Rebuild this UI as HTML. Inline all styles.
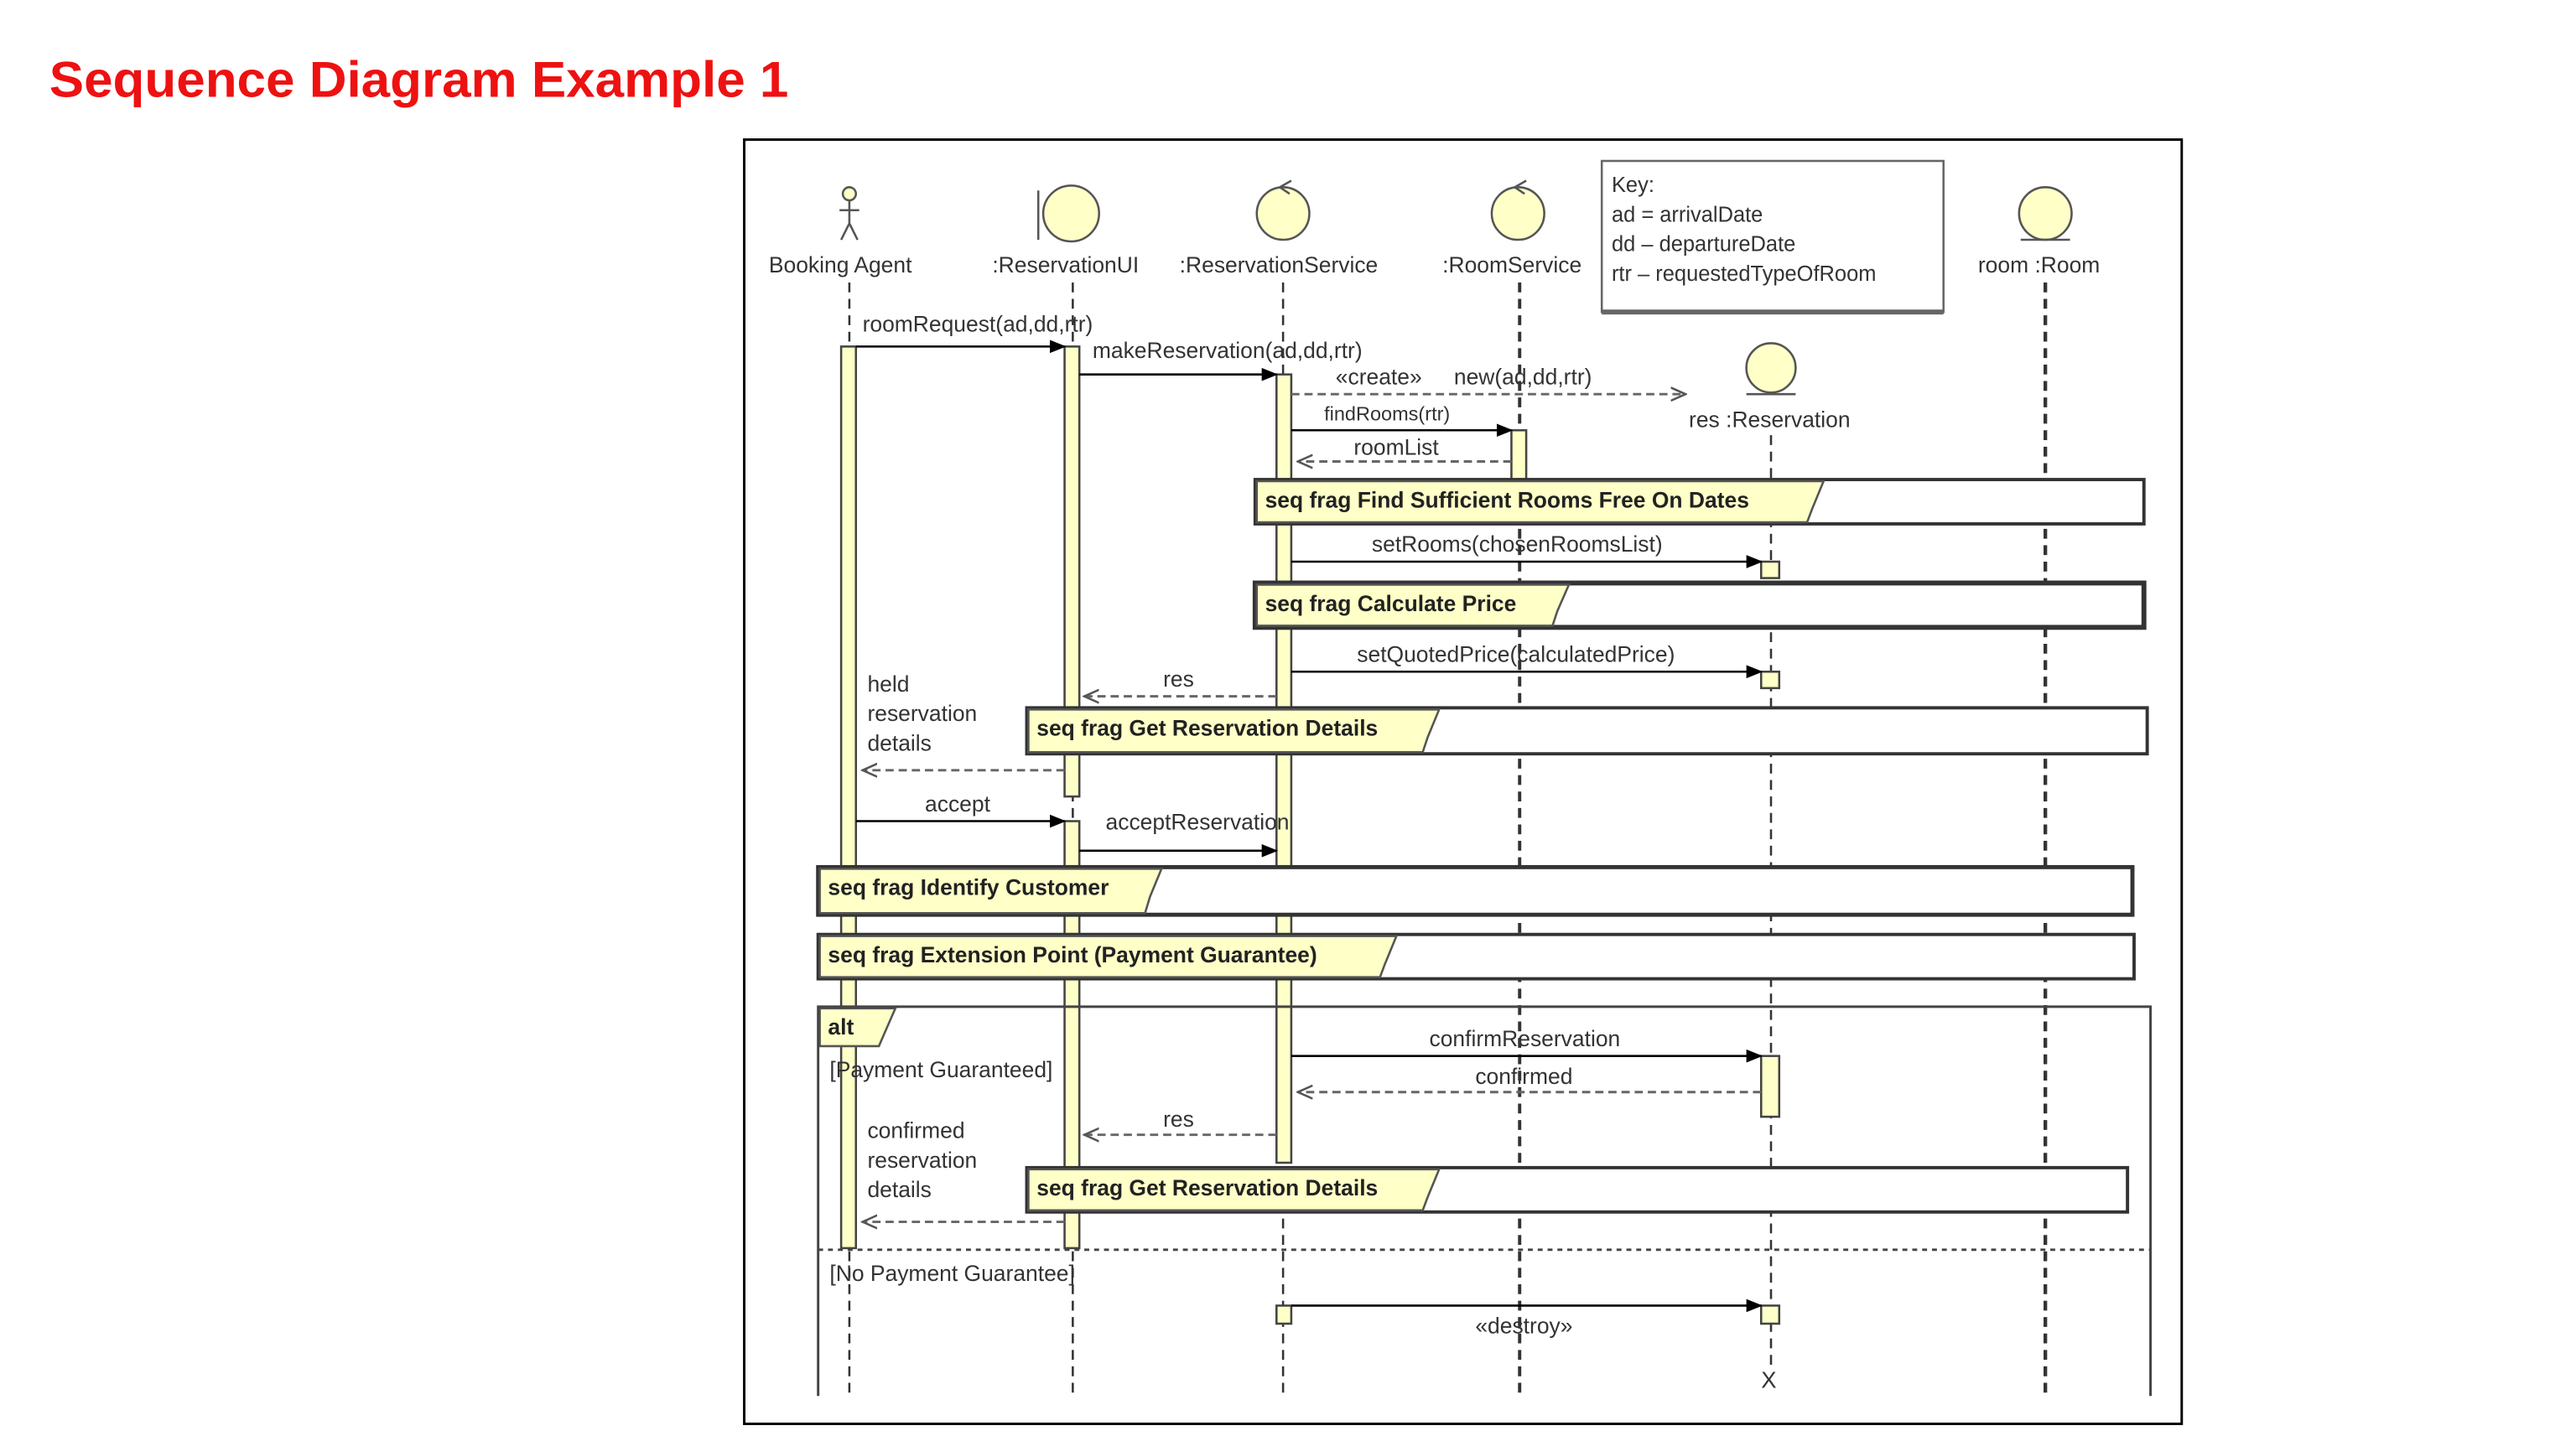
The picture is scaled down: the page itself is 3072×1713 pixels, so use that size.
<!DOCTYPE html>
<html><head><meta charset="utf-8"><style>
html,body{margin:0;padding:0;background:#fff;}
svg{display:block}
text{font-family:"Liberation Sans",sans-serif;}
</style></head><body>
<svg width="3072" height="1713" viewBox="0 0 1568 874.4" preserveAspectRatio="none" xmlns="http://www.w3.org/2000/svg">
<defs>
<marker id="fa" markerWidth="10" markerHeight="10" refX="9" refY="5" orient="auto" markerUnits="userSpaceOnUse"><path d="M0,1 L10,5 L0,9 z" fill="#000"/></marker>
<marker id="oa" markerWidth="10" markerHeight="10" refX="9" refY="5" orient="auto" markerUnits="userSpaceOnUse"><path d="M0,1 L9,5 L0,9" fill="none" stroke="#555" stroke-width="1.3"/></marker>
</defs>
<text x="30" y="59" font-size="31" font-weight="bold" fill="#ee1111" textLength="450" lengthAdjust="spacingAndGlyphs">Sequence Diagram Example 1</text>
<rect x="453" y="85" width="875" height="782" fill="#fff" stroke="#000" stroke-width="1.5"/>

<g stroke="#333" stroke-width="1.3" stroke-dasharray="6,4" fill="none">
<line x1="517" y1="172" x2="517" y2="850"/>
<line x1="653" y1="172" x2="653" y2="850"/>
<line x1="781" y1="172" x2="781" y2="850"/>
<line x1="925" y1="172" x2="925" y2="850" stroke-width="2"/>
<line x1="1078" y1="265" x2="1078" y2="835"/>
<line x1="1245" y1="172" x2="1245" y2="850" stroke-width="2.2"/>
</g>

<g fill="#ffffc8" stroke="#555" stroke-width="1.3">
<circle cx="517" cy="118" r="4"/>
<circle cx="652" cy="130" r="17"/>
<circle cx="781" cy="130" r="16"/>
<circle cx="924" cy="130" r="16"/>
<circle cx="1245" cy="130" r="16"/>
<circle cx="1078" cy="224" r="15"/>
</g>
<g stroke="#555" stroke-width="1.3" fill="none">
<path d="M517,122 V136 M511,128 H523 M517,136 L512,146 M517,136 L522,146"/>
<path d="M632,116 V146"/>
<path d="M779,114 L786,110 M779,114 L785,118"/>
<path d="M922,114 L929,110 M922,114 L928,118"/>
<path d="M1230,146 H1260 M1063,240 H1093"/>
</g>
<g font-size="13.5" fill="#333">
<text x="468" y="166">Booking Agent</text>
<text x="604" y="166">:ReservationUI</text>
<text x="718" y="166">:ReservationService</text>
<text x="878" y="166">:RoomService</text>
<text x="1204" y="166">room :Room</text>
<text x="1028" y="260">res :Reservation</text>
</g>
<rect x="975" y="98" width="208" height="92" fill="#fff" stroke="#666" stroke-width="1.3"/>
<line x1="975" y1="190" x2="1183" y2="190" stroke="#666" stroke-width="3"/>
<g font-size="13" fill="#333">
<text x="981" y="117">Key:</text>
<text x="981" y="135">ad = arrivalDate</text>
<text x="981" y="153">dd – departureDate</text>
<text x="981" y="171">rtr – requestedTypeOfRoom</text>
</g>

<g fill="#ffffc8" stroke="#444" stroke-width="1.3">
<rect x="512" y="211" width="9" height="549"/>
<rect x="648" y="211" width="9" height="274"/>
<rect x="648" y="500" width="9" height="260"/>
<rect x="777" y="228" width="9" height="480"/>
<rect x="920" y="262" width="9" height="30"/>
<rect x="1072" y="342" width="11" height="10"/>
<rect x="1072" y="409" width="11" height="10"/>
<rect x="1072" y="643" width="11" height="37"/>
<rect x="777" y="795" width="9" height="11"/>
<rect x="1072" y="795" width="11" height="11"/>
</g>

<g stroke="#000" stroke-width="1.3" fill="none" marker-end="url(#fa)">
<line x1="521" y1="211" x2="648" y2="211"/>
<line x1="657" y1="228" x2="777" y2="228"/>
<line x1="786" y1="262" x2="920" y2="262"/>
<line x1="786" y1="342" x2="1072" y2="342"/>
<line x1="786" y1="409" x2="1072" y2="409"/>
<line x1="521" y1="500" x2="648" y2="500"/>
<line x1="657" y1="518" x2="777" y2="518"/>
<line x1="786" y1="643" x2="1072" y2="643"/>
<line x1="786" y1="795" x2="1072" y2="795"/>
</g>
<g stroke="#666" stroke-width="1.5" stroke-dasharray="5,3" fill="none" marker-end="url(#oa)">
<line x1="786" y1="240" x2="1026" y2="240"/>
<line x1="920" y1="281" x2="790" y2="281"/>
<line x1="777" y1="424" x2="660" y2="424"/>
<line x1="648" y1="469" x2="525" y2="469"/>
<line x1="1072" y1="665" x2="790" y2="665"/>
<line x1="777" y1="691" x2="660" y2="691"/>
<line x1="648" y1="744" x2="525" y2="744"/>
</g>
<g font-size="13.5" fill="#333">
<text x="525" y="202">roomRequest(ad,dd,rtr)</text>
<text x="665" y="218">makeReservation(ad,dd,rtr)</text>
<text x="813" y="234">«create»</text>
<text x="885" y="234">new(ad,dd,rtr)</text>
<text x="806" y="256" font-size="12">findRooms(rtr)</text>
<text x="824" y="277">roomList</text>
<text x="835" y="336">setRooms(chosenRoomsList)</text>
<text x="826" y="403">setQuotedPrice(calculatedPrice)</text>
<text x="708" y="418">res</text>
<text x="528" y="421">held</text>
<text x="528" y="439">reservation</text>
<text x="528" y="457">details</text>
<text x="563" y="494">accept</text>
<text x="673" y="505">acceptReservation</text>
<text x="870" y="637">confirmReservation</text>
<text x="898" y="660">confirmed</text>
<text x="708" y="686">res</text>
<text x="528" y="693">confirmed</text>
<text x="528" y="711">reservation</text>
<text x="528" y="729">details</text>
<text x="505" y="656">[Payment Guaranteed]</text>
<text x="505" y="780">[No Payment Guarantee]</text>
<text x="898" y="812">«destroy»</text>
<text x="1072" y="845" font-size="14">X</text>
</g>

<g stroke="#333" stroke-width="2" fill="#fff">
<rect x="764" y="292" width="541" height="27"/>
<rect x="764" y="355" width="541" height="27" stroke-width="3"/>
<rect x="625" y="431" width="682" height="28"/>
<rect x="498" y="528" width="800" height="29" stroke-width="2.5"/>
<rect x="498" y="569" width="801" height="27"/>
<rect x="625" y="711" width="670" height="27"/>
</g>
<g stroke="#555" stroke-width="1.3" fill="#ffffc8">
<polygon points="765,293 1110,293 1103,310 1100,318 765,318"/>
<polygon points="765,356 955,356 948,372 945,381 765,381"/>
<polygon points="626,432 876,432 869,449 866,458 626,458"/>
<polygon points="499,529 707,529 700,546 697,556 499,556"/>
<polygon points="499,570 850,570 843,587 840,595 499,595"/>
<polygon points="626,712 876,712 869,729 866,737 626,737"/>
<polygon points="499,614 545,614 538,630 535,637 499,637"/>
</g>
<g font-size="13.5" font-weight="bold" fill="#222">
<text x="770" y="309">seq frag Find Sufficient Rooms Free On Dates</text>
<text x="770" y="372">seq frag Calculate Price</text>
<text x="631" y="448">seq frag Get Reservation Details</text>
<text x="504" y="545">seq frag Identify Customer</text>
<text x="504" y="586">seq frag Extension Point (Payment Guarantee)</text>
<text x="631" y="728">seq frag Get Reservation Details</text>
<text x="504" y="630">alt</text>
</g>
<g stroke="#444" stroke-width="1.5" fill="none">
<path d="M498,850 V613 H1309 V850"/>
<line x1="498" y1="761" x2="1309" y2="761" stroke-dasharray="3,3"/>
</g>
</svg>
</body></html>
